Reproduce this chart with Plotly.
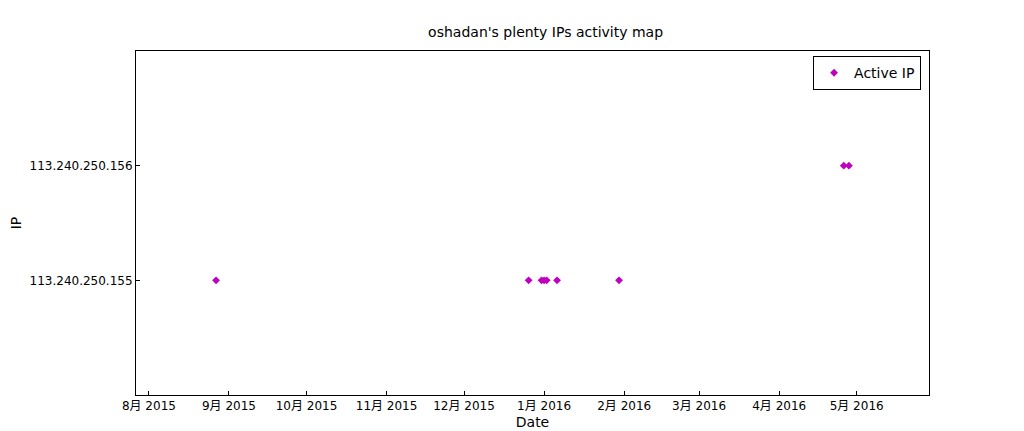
import plotly.graph_objs as go

# activity dates and ip index (0 -> .155, 1 -> .156)
dates = ["2015-08-27", "2015-12-26", "2015-12-31", "2016-01-01", "2016-01-02",
         "2016-01-06", "2016-01-30", "2016-04-26", "2016-04-28"]
ip_idx = [0, 0, 0, 0, 0, 0, 0, 1, 1]
ip_labels = ["113.240.250.155", "113.240.250.156"]
tick_dates = ["2015-08-01", "2015-09-01", "2015-10-01", "2015-11-01", "2015-12-01",
              "2016-01-01", "2016-02-01", "2016-03-01", "2016-04-01", "2016-05-01"]
tick_text = ["8月 2015", "9月 2015", "10月 2015", "11月 2015", "12月 2015",
             "1月 2016", "2月 2016", "3月 2016", "4月 2016", "5月 2016"]

fig = go.Figure(go.Scatter(
    x=dates, y=ip_idx, mode="markers", name="Active IP",
    marker=dict(symbol="diamond", size=6, color="#bf00bf"),
))

font = "DejaVu Sans, Noto Sans CJK SC"
axis = dict(showline=True, mirror=True, linecolor="black", linewidth=1,
            ticks="inside", ticklen=4, tickcolor="black", showgrid=False,
            zeroline=False, automargin=False, tickfont=dict(size=12, color="black"))
fig.update_layout(
    width=1024, height=431, plot_bgcolor="white", paper_bgcolor="white",
    font=dict(family=font, size=12, color="black"),
    margin=dict(l=128, r=103, t=43, b=44),
    title=dict(text="oshadan's plenty IPs activity map", x=0.525, y=0.955,
               xanchor="center", yanchor="top", font=dict(size=14),
               automargin=False),
    xaxis=dict(axis, range=["2015-07-27", "2016-05-29"], tickvals=tick_dates,
               ticktext=tick_text, title=dict(text="Date", standoff=4)),
    yaxis=dict(axis, range=[-1, 2], tickvals=[0, 1], ticktext=ip_labels,
               title=dict(text="IP", standoff=8)),
    showlegend=True,
    legend=dict(x=0.99, y=0.985, xanchor="right", yanchor="top",
                bordercolor="black", borderwidth=1, font=dict(size=14)),
)

fig.write_html("out.html")
